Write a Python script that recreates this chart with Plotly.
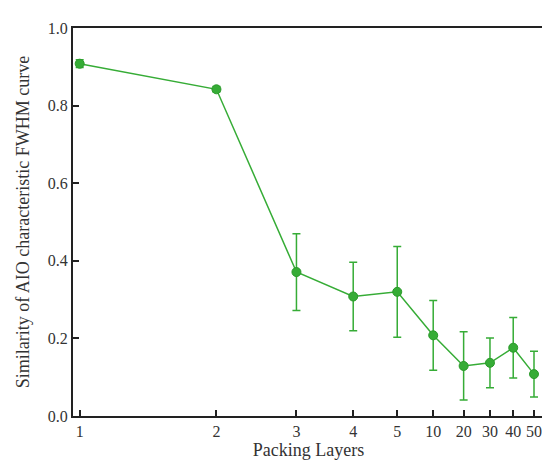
import plotly.graph_objects as go

# Packing layers shown on the x axis (plotted at their rank on a log axis)
layers = ["1", "2", "3", "4", "5", "10", "20", "30", "40", "50"]
rank = [1, 2, 3, 4, 5, 6, 7, 8, 9, 10]
similarity = [0.908, 0.842, 0.371, 0.308, 0.320, 0.208, 0.129, 0.137, 0.176, 0.108]
err = [0.010, 0.007, 0.099, 0.088, 0.117, 0.090, 0.088, 0.064, 0.078, 0.059]
y_ticks = [0.0, 0.2, 0.4, 0.6, 0.8, 1.0]

green = "#36ac36"
font = "Liberation Serif"

fig = go.Figure()
fig.add_trace(go.Scatter(
    x=rank, y=similarity, mode="lines+markers",
    line=dict(color=green, width=1.5),
    marker=dict(color=green, size=9, symbol="circle",
                line=dict(color="#2a9a2a", width=1)),
    error_y=dict(type="data", array=err, visible=True, color=green,
                 thickness=1.5, width=4),
    showlegend=False,
))

fig.update_layout(
    width=550, height=472,
    margin=dict(l=65, r=13, t=15, b=64),
    paper_bgcolor="white", plot_bgcolor="white",
    font=dict(family=font, size=16, color="#333"),
    xaxis=dict(
        type="log", range=[-0.0147, 1.022],
        tickvals=rank, ticktext=layers,
        ticks="inside", ticklen=6, tickcolor="#222", tickwidth=1.5,
        showline=True, linecolor="#222", linewidth=2, mirror=True,
        showgrid=False, zeroline=False,
        title=dict(text="Packing Layers", font=dict(size=18), standoff=2),
    ),
    yaxis=dict(
        range=[0, 1.0],
        tickvals=y_ticks, tickformat=".1f",
        ticks="inside", ticklen=6, tickcolor="#222", tickwidth=1.5,
        showline=True, linecolor="#222", linewidth=2, mirror=True,
        showgrid=False, zeroline=False,
        title=dict(text="Similarity of AIO characteristic FWHM curve",
                   font=dict(size=18), standoff=13),
    ),
)

fig.write_html("out.html")
